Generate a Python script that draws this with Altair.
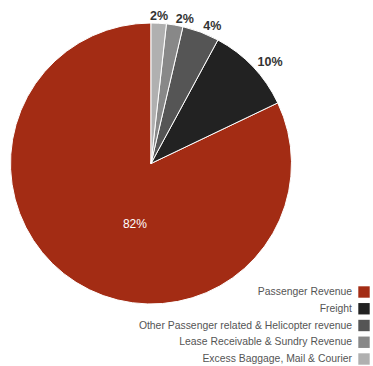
import altair as alt
import pandas as pd

categories = ["Passenger Revenue", "Freight",
              "Other Passenger related & Helicopter revenue",
              "Lease Receivable & Sundry Revenue",
              "Excess Baggage, Mail & Courier"]
values = [82.1, 10.0, 4.25, 1.9, 1.75]
labels = ["82%", "10%", "4%", "2%", "2%"]
colors = ["#a32c14", "#222222", "#555555", "#888888", "#b0b0b0"]
draw_order = [5, 4, 3, 2, 1]
legend_row = [0, 1, 2, 3, 4]

df = pd.DataFrame({"category": categories, "value": values, "label": labels,
                   "ord": draw_order, "row": legend_row})

FONT = "Liberation Sans"
color = alt.Color("category:N", scale=alt.Scale(domain=categories, range=colors), legend=None)
cx, cy, R = 151, 163.5, 140.5

base = alt.Chart(df)

theta = alt.Theta("value:Q", stack=True)
order = alt.Order("ord:Q", sort="ascending")

pie = base.mark_arc(outerRadius=R, stroke="white", strokeWidth=1).encode(
    theta=theta, order=order, color=color,
    x=alt.value(cx), y=alt.value(cy))

outer_left = base.mark_text(fontSize=12.5, fontWeight="bold", color="#333333", font=FONT,
                            align="left", baseline="middle").encode(
    theta=theta, order=order, radius=alt.value(147), text="label:N",
    x=alt.value(cx), y=alt.value(cy),
    opacity=alt.condition("datum.value < 50 && datum.ord > 1", alt.value(1), alt.value(0)))

outer_center = base.mark_text(fontSize=12.5, fontWeight="bold", color="#333333", font=FONT,
                              align="center", baseline="middle").encode(
    theta=theta, order=order, radius=alt.value(148), text="label:N",
    x=alt.value(cx), y=alt.value(cy),
    opacity=alt.condition("datum.ord == 1", alt.value(1), alt.value(0)))

inner = base.mark_text(fontSize=12, color="white", font=FONT).encode(
    theta=theta, order=order, radius=alt.value(62), text="label:N",
    x=alt.value(cx + 17), y=alt.value(cy + 8),
    opacity=alt.condition("datum.value > 50", alt.value(1), alt.value(0)))

ysc = alt.Scale(domain=[0, 4], range=[292, 359])

leg_sq = base.mark_square(size=130, opacity=1).encode(
    x=alt.value(364), y=alt.Y("row:Q", scale=ysc, axis=None), color=color)

leg_tx = base.mark_text(align="right", baseline="middle", fontSize=10.4, color="#555555",
                        font=FONT).encode(
    x=alt.value(352), y=alt.Y("row:Q", scale=ysc, axis=None), text="category:N")

chart = alt.layer(pie, outer_left, outer_center, inner, leg_sq, leg_tx).properties(
    width=373, height=366, padding=0, autosize="none"
).configure_view(stroke=None)

chart.save("out.html", embed_options={"renderer": "svg", "actions": False})
